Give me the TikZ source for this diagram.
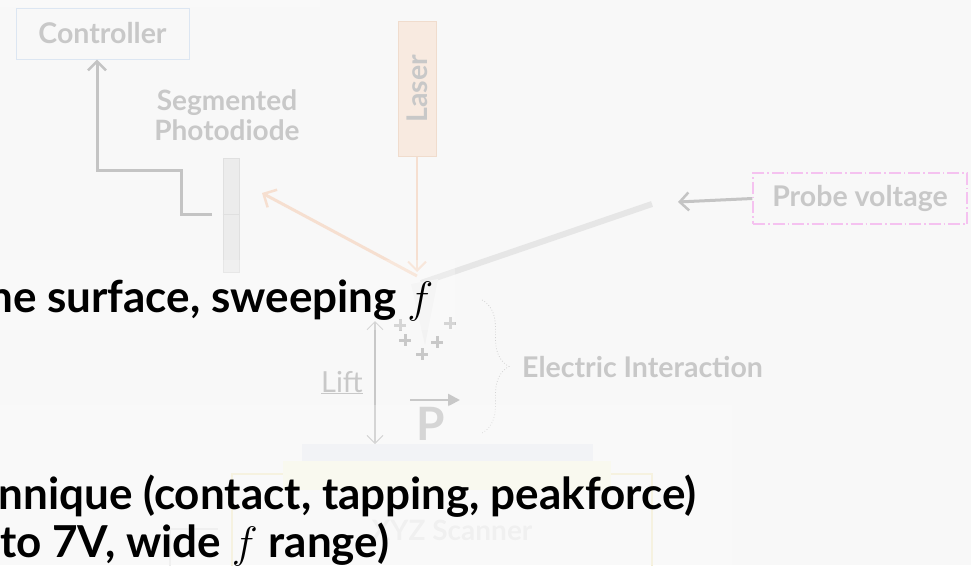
\RequirePackage{fix-cm}
\documentclass[tikz,border=0pt]{standalone}
\usepackage{fontspec}
\setmainfont{Lato}
\usetikzlibrary{arrows.meta,decorations.pathreplacing,calc}

\definecolor{bgcol}{HTML}{F8F8F8}
\definecolor{lblgray}{HTML}{C8C8C8}
\definecolor{conngray}{HTML}{C4C4C4}
\definecolor{beam}{HTML}{F6DFD0}
\definecolor{laserfill}{HTML}{F8EAE0}
\definecolor{laserdraw}{HTML}{F0DCCD}
\definecolor{ctrlblue}{HTML}{DCE6F2}
\definecolor{probepink}{HTML}{F5C2F0}
\definecolor{cantigray}{HTML}{E6E6E6}
\definecolor{pdfill}{HTML}{ECECEC}
\definecolor{pddraw}{HTML}{E0E0E0}
\definecolor{layerblue}{HTML}{EEF0F4}
\definecolor{layeryellow}{HTML}{F7F7EA}
\definecolor{scanborder}{HTML}{F3EED6}
\definecolor{faintgray}{HTML}{ECECEC}

\tikzset{
  lbl/.style={text=lblgray, font=\fontsize{28.5}{32}\selectfont\bfseries, inner sep=0pt},
  boxlbl/.style={lbl, draw, line width=1pt, minimum height=51pt},
  conn/.style={draw=conngray, line width=3pt, -{Straight Barb[length=9pt,width=18pt,line width=2.5pt]}},
  beamline/.style={draw=beam, line width=2.5pt},
  thinarrow/.style={draw=lblgray, line width=1.5pt, {Straight Barb[length=8pt,width=16pt,line width=1pt]}-{Straight Barb[length=8pt,width=16pt,line width=1pt]}},
  plussign/.style={draw=lblgray, line width=3pt},
  overlay/.style={fill=white, fill opacity=0.25, draw=none},
  bigtext/.style={text=black, font=\fontsize{44}{50}\selectfont\bfseries, inner sep=0pt}
}

\begin{document}
\begin{tikzpicture}[x=1pt, y=-1pt]
\useasboundingbox (0,0) rectangle (971,565);
\clip (0,0) rectangle (971,565);
\fill[bgcol] (0,0) rectangle (971,565);

% controller, photodiode, laser and probe voltage source
\node[boxlbl, draw=ctrlblue, minimum width=173pt] (ctrl) at (102.5,33.5) {Controller};
\node[lbl, align=center, font=\fontsize{28}{30}\selectfont\bfseries] (pdlbl) at (227,115) {Segmented\\Photodiode};
\node[draw=pddraw, fill=pdfill, line width=1pt, minimum width=16pt, minimum height=114pt, inner sep=0pt] (pd) at (231,215) {};
\draw[pddraw, line width=1pt] (pd.west |- 0,214) -- (pd.east |- 0,214);
\node[boxlbl, draw=laserdraw, fill=laserfill, minimum width=38pt, minimum height=135pt] (laser) at (417,88.5) {};
\node[lbl, rotate=90] (laserlbl) at (laser.center) {Laser};
\node[boxlbl, draw=probepink, line width=1.5pt, dash pattern=on 12pt off 3pt on 1.5pt off 3pt, minimum width=214pt] (probe) at (860,198.5) {Probe voltage};

% cantilever and tip
\coordinate (tipbase) at (421,283);
\coordinate (cantiend) at (652,204);
\draw[cantigray, line width=6pt] (tipbase) -- (cantiend);
\fill[faintgray!70] (411,284) -- (438,279) -- (425,345) -- cycle;

% laser path: incident and reflected beams
\draw[beamline, -{Straight Barb[length=9pt,width=18pt,line width=2pt]}] (laser.south) -- (417,272);
\coordinate (reflect) at (262,193);
\draw[beamline, line width=3pt, -{Straight Barb[length=10pt,width=20pt,line width=2.5pt]}] (417,276) -- (reflect);

% feedback from photodiode to the controller
\coordinate (pdout) at (212,214);
\draw[conn] (pdout) -- (181,214) -- (181,170) -- (97,170) -- (97,170 |- ctrl.south);

% probe voltage applied to the cantilever
\coordinate (vin) at (678,202);
\draw[conn] (probe.west) -- (vin);

% surface charges
\foreach \name/\px/\py in {p1/400/325, p2/450/323, p3/405/340, p4/437/342, p5/422/354}{
  \coordinate (\name) at (\px,\py);
  \draw[plussign] ($(\name)+(-6,0)$) -- ($(\name)+(6,0)$) ($(\name)+(0,-6)$) -- ($(\name)+(0,6)$);
}

% lift height
\coordinate (lifttop) at (375,321);
\coordinate (liftbot) at (375,444);
\draw[thinarrow] (lifttop) -- (liftbot);
\node[text=lblgray, font=\fontsize{29}{29}\selectfont, anchor=base east, inner sep=0pt] (lift) at (363,392) {\underline{Lift}};

% polarization vector
\coordinate (pstart) at (410,400);
\coordinate (pend) at (460,400);
\draw[lblgray, line width=2.5pt, -{Triangle[length=12pt,width=12pt]}] (pstart) -- (pend);
\node[text=lblgray, font=\fontsize{46}{46}\selectfont\bfseries, inner sep=0pt, anchor=base] (plbl) at (431,440) {P};

% interaction brace
\draw[lblgray!80, line width=0.8pt, dotted, decorate, decoration={brace, amplitude=27pt}] (482,300) -- (482,433);
\node[lbl, anchor=west] (elbl) at (522,367) {Electric Interaction};

% sample stack and scanner
\draw[scanborder, line width=1.5pt] (232,575) -- (232,474) -- (652,474) -- (652,575);
\draw[faintgray, line width=1.5pt] (170,575) -- (170,529) -- (218,529);
\fill[layeryellow] (283,461) rectangle (611,490);
\fill[layerblue] (302,444) rectangle (593,461);
\node[text=faintgray, font=\fontsize{28}{30}\selectfont\bfseries, inner sep=0pt] (scan) at (452,530) {XYZ Scanner};

% translucent panels behind the text
\fill[overlay] (0,260) rectangle (455,330);
\fill[overlay] (0,405) rectangle (732,565);
\fill[overlay] (0,0) rectangle (320,7);

% text lines
\node[bigtext, anchor=base west] (t1) at (-12,312) {he surface, sweeping $f$};
\node[bigtext, anchor=base east] (t2) at (697,509) {nnique (contact, tapping, peakforce)};
\node[bigtext, anchor=base west] (t3) at (0,557) {to 7V, wide $f$ range)};
\end{tikzpicture}
\end{document}
